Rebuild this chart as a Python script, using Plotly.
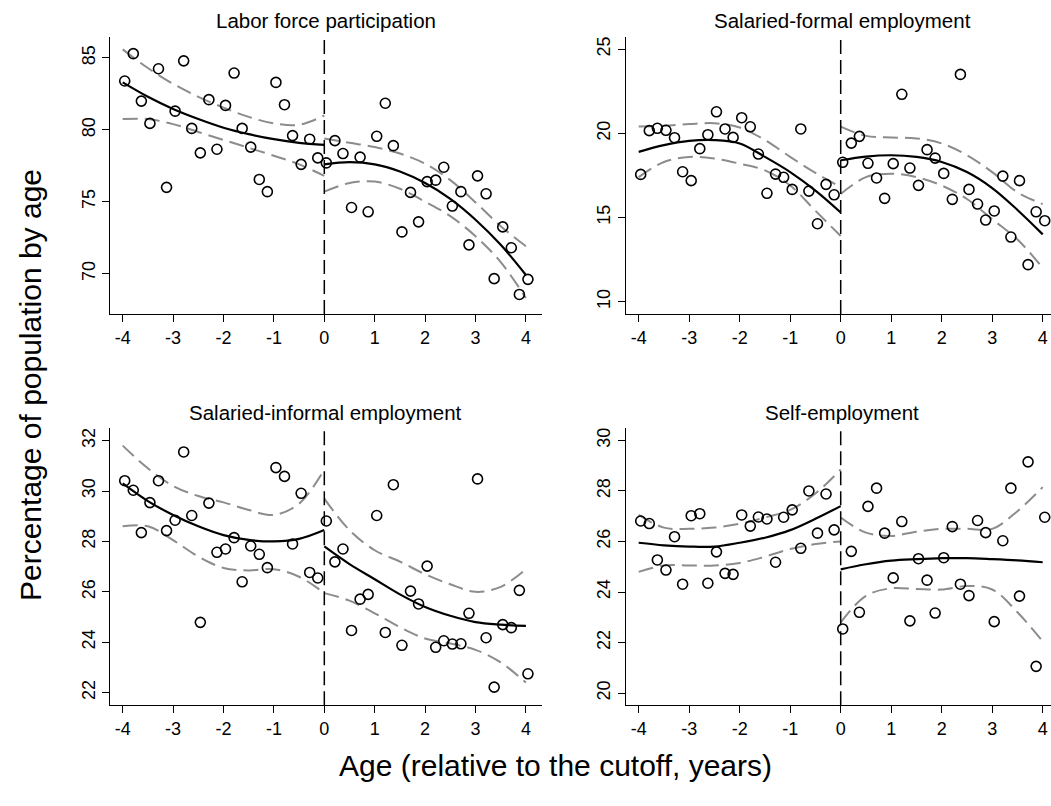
import plotly.graph_objects as go

# Binned ages (2-month bins, years relative to the cutoff)
ages = [-3.96, -3.79, -3.63, -3.46, -3.29, -3.13, -2.96, -2.79, -2.63, -2.46,
        -2.29, -2.13, -1.96, -1.79, -1.63, -1.46, -1.29, -1.13, -0.96, -0.79,
        -0.63, -0.46, -0.29, -0.13,
        0.04, 0.21, 0.37, 0.54, 0.71, 0.87, 1.04, 1.21, 1.37, 1.54,
        1.71, 1.87, 2.04, 2.21, 2.37, 2.54, 2.71, 2.87, 3.04, 3.21,
        3.37, 3.54, 3.71, 3.87, 4.04]

# Binned means (percent of population by age)
lfp = [83.4, 85.3, 82.0, 80.45, 84.25, 76.0, 81.3, 84.8, 80.1, 78.4,
       82.1, 78.65, 81.7, 83.95, 80.1, 78.8, 76.55, 75.7, 83.3, 81.75,
       79.6, 77.6, 79.35, 78.05,
       77.7, 79.25, 78.35, 74.6, 78.1, 74.3, 79.55, 81.85, 78.9, 72.9,
       75.65, 73.6, 76.4, 76.5, 77.4, 74.7, 75.7, 72.0, 76.8, 75.55,
       69.65, 73.25, 71.8, 68.55, 69.6]

formal = [17.56, 20.16, 20.30, 20.18, 19.74, 17.72, 17.19, 19.09, 19.92, 21.28,
          20.26, 19.76, 20.93, 20.39, 18.77, 16.44, 17.58, 17.39, 16.67, 20.26,
          16.57, 14.63, 16.97, 16.35,
          18.28, 19.42, 19.82, 18.22, 17.35, 16.14, 18.20, 22.32, 17.94, 16.91,
          19.03, 18.53, 17.62, 16.08, 23.50, 16.67, 15.80, 14.85, 15.39, 17.46,
          13.84, 17.19, 12.20, 15.34, 14.81]

informal = [30.41, 30.03, 28.35, 29.54, 30.41, 28.43, 28.84, 31.55, 29.03, 24.79,
            29.52, 27.57, 27.70, 28.15, 26.40, 27.82, 27.49, 26.96, 30.93, 30.58,
            27.90, 29.91, 26.77, 26.55,
            28.81, 27.19, 27.70, 24.47, 25.71, 25.90, 29.03, 24.39, 30.25, 23.88,
            26.03, 25.52, 27.02, 23.80, 24.06, 23.93, 23.94, 25.15, 30.48, 24.18,
            22.22, 24.70, 24.58, 26.06, 22.75]

selfemp = [26.81, 26.71, 25.27, 24.87, 26.19, 24.31, 27.02, 27.10, 24.35, 25.59,
           24.74, 24.70, 27.05, 26.61, 26.97, 26.89, 25.18, 26.96, 27.25, 25.73,
           28.00, 26.33, 27.88, 26.46,
           22.54, 25.61, 23.20, 27.39, 28.11, 26.33, 24.56, 26.79, 22.86, 25.32,
           24.47, 23.17, 25.36, 26.59, 24.31, 23.86, 26.83, 26.35, 22.83, 26.03,
           28.11, 23.84, 29.15, 21.06, 26.96]

# Evaluation grid for the fitted polynomials on each side of the cutoff
grid_left = [-4.0, -3.5, -3.0, -2.5, -2.0, -1.5, -1.0, -0.5, 0.0]
grid_right = [0.0, 0.5, 1.0, 1.5, 2.0, 2.5, 3.0, 3.5, 4.0]

# Fitted values and 95% confidence bands (left of cutoff / right of cutoff)
lfp_fit_l = [83.3, 82.3, 81.45, 80.75, 80.15, 79.7, 79.35, 79.1, 78.95]
lfp_hi_l = [85.6, 84.3, 83.2, 82.3, 81.55, 80.9, 80.45, 80.35, 81.0]
lfp_lo_l = [80.75, 80.75, 80.4, 79.85, 79.3, 78.75, 78.2, 77.6, 76.8]
lfp_fit_r = [77.6, 77.75, 77.6, 77.1, 76.3, 75.2, 73.75, 72.0, 69.9]
lfp_hi_r = [79.4, 79.1, 78.8, 78.35, 77.65, 76.5, 74.95, 73.3, 71.9]
lfp_lo_r = [75.7, 76.3, 76.4, 75.9, 75.0, 74.0, 72.6, 70.8, 68.3]

formal_fit_l = [18.9, 19.3, 19.55, 19.6, 19.4, 18.6, 17.7, 16.6, 15.3]
formal_hi_l = [20.4, 20.45, 20.55, 20.6, 20.35, 19.6, 18.6, 17.65, 16.8]
formal_lo_l = [17.4, 18.3, 18.6, 18.5, 18.2, 17.8, 16.9, 15.4, 13.9]
formal_fit_r = [18.4, 18.62, 18.7, 18.6, 18.3, 17.7, 16.75, 15.45, 14.0]
formal_hi_r = [20.4, 19.85, 19.75, 19.7, 19.4, 18.7, 17.7, 16.5, 15.8]
formal_lo_r = [16.4, 17.4, 17.6, 17.4, 16.9, 16.1, 14.9, 13.7, 12.0]

informal_fit_l = [30.3, 29.6, 29.05, 28.6, 28.25, 28.06, 28.0, 28.1, 28.45]
informal_hi_l = [31.8, 30.9, 30.2, 29.8, 29.55, 29.25, 29.05, 29.5, 30.85]
informal_lo_l = [28.6, 28.6, 28.05, 27.4, 26.95, 26.85, 26.9, 26.6, 25.95]
informal_fit_r = [27.8, 27.1, 26.5, 25.9, 25.4, 25.05, 24.8, 24.7, 24.65]
informal_hi_r = [29.7, 28.45, 27.65, 27.2, 26.7, 26.3, 26.0, 26.2, 26.9]
informal_lo_r = [25.95, 25.65, 25.15, 24.6, 24.15, 23.95, 23.7, 23.2, 22.4]

self_fit_l = [25.95, 25.85, 25.8, 25.8, 25.95, 26.15, 26.45, 26.9, 27.4]
self_hi_l = [27.05, 26.55, 26.5, 26.55, 26.7, 26.95, 27.25, 27.9, 28.85]
self_lo_l = [24.8, 25.05, 25.05, 25.05, 25.15, 25.4, 25.7, 25.9, 26.0]
self_fit_r = [24.9, 25.1, 25.24, 25.3, 25.34, 25.34, 25.3, 25.25, 25.18]
self_hi_r = [26.95, 26.35, 26.22, 26.39, 26.5, 26.5, 26.5, 27.2, 28.15]
self_lo_r = [22.8, 23.85, 24.15, 24.12, 24.1, 24.24, 24.1, 23.2, 22.05]

panel_titles = ["Labor force participation", "Salaried-formal employment",
                "Salaried-informal employment", "Self-employment"]
x_ticks = [-4, -3, -2, -1, 0, 1, 2, 3, 4]
x_ticklabels = ["-4", "-3", "-2", "-1", "0", "1", "2", "3", "4"]
y_ticks = [[70, 75, 80, 85], [10, 15, 20, 25], [22, 24, 26, 28, 30, 32], [20, 22, 24, 26, 28, 30]]
y_ranges = [[67.19, 86.48], [9.27, 25.74], [21.5, 32.5], [19.52, 30.49]]

FONT = "Liberation Sans, Arial, Helvetica, sans-serif"
W, H = 1051, 806
CI_COLOR = "#8c8c8c"

panels = [
    (lfp, lfp_fit_l, lfp_hi_l, lfp_lo_l, lfp_fit_r, lfp_hi_r, lfp_lo_r),
    (formal, formal_fit_l, formal_hi_l, formal_lo_l, formal_fit_r, formal_hi_r, formal_lo_r),
    (informal, informal_fit_l, informal_hi_l, informal_lo_l, informal_fit_r, informal_hi_r, informal_lo_r),
    (selfemp, self_fit_l, self_hi_l, self_lo_l, self_fit_r, self_hi_r, self_lo_r),
]

# Plot-area boxes in pixels: (left, right, top, bottom)
boxes = [(110, 541.7, 36.7, 314), (625.7, 1051, 36.7, 314),
         (110, 541.7, 428, 705.3), (625.7, 1051, 428, 705.3)]
x_ranges = [[-4.252, 4.313], [-4.257, 4.164], [-4.252, 4.313], [-4.257, 4.164]]
title_centers = [325.9, 842.0, 325.9, 842.0]
title_tops = [21, 21, 412, 412]

fig = go.Figure()
layout = dict(
    width=W, height=H, margin=dict(l=0, r=0, t=0, b=0),
    paper_bgcolor="white", plot_bgcolor="white", showlegend=False,
    font=dict(family=FONT, color="black"),
)
shapes = []
annotations = []

for i, (vals, fl, hl, ll, fr, hr, lr) in enumerate(panels):
    n = "" if i == 0 else str(i + 1)
    xa, ya = "x" + n, "y" + n
    left, right, top, bottom = boxes[i]

    ci_line = dict(color=CI_COLOR, width=2, dash="15px,7px", shape="spline")
    fit_line = dict(color="black", width=2.2, shape="spline")
    for gx, ys, ln in [(grid_left, hl, ci_line), (grid_left, ll, ci_line),
                       (grid_right, hr, ci_line), (grid_right, lr, ci_line),
                       (grid_left, fl, fit_line), (grid_right, fr, fit_line)]:
        fig.add_trace(go.Scatter(x=gx, y=ys, mode="lines", line=ln,
                                 xaxis=xa, yaxis=ya, hoverinfo="skip"))

    fig.add_trace(go.Scatter(
        x=ages, y=vals, mode="markers", xaxis=xa, yaxis=ya,
        marker=dict(symbol="circle-open", size=10, color="black",
                    line=dict(width=1.6, color="black")),
    ))

    axis_common = dict(showline=True, linecolor="black", linewidth=1.3,
                       ticks="outside", ticklen=7, tickwidth=1.3, tickcolor="black",
                       showgrid=False, zeroline=False,
                       tickfont=dict(size=18, family=FONT, color="black"))
    layout["xaxis" + n] = dict(
        axis_common, domain=[left / W, right / W], anchor=ya,
        range=x_ranges[i], tickvals=x_ticks, ticktext=x_ticklabels,
    )
    layout["yaxis" + n] = dict(
        axis_common, domain=[1 - bottom / H, 1 - top / H], anchor=xa,
        range=y_ranges[i], tickvals=y_ticks[i],
        ticktext=[str(v) for v in y_ticks[i]], tickangle=-90,
    )

    # Cutoff line
    shapes.append(dict(type="line", xref=xa, yref=ya + " domain",
                       x0=0, x1=0, y0=0, y1=1,
                       line=dict(color="black", width=1.5, dash="14px,6px")))

    annotations.append(dict(
        text=panel_titles[i], x=title_centers[i] / W, y=1 - title_tops[i] / H,
        xref="paper", yref="paper", showarrow=False,
        font=dict(size=20.5, family=FONT, color="black"),
        xanchor="center", yanchor="middle",
    ))

annotations.append(dict(
    text="Percentage of population by age", x=30 / W, y=1 - 385 / H,
    xref="paper", yref="paper", showarrow=False, textangle=-90,
    font=dict(size=30, family=FONT, color="black"),
    xanchor="center", yanchor="middle",
))
annotations.append(dict(
    text="Age (relative to the cutoff, years)", x=555 / W, y=1 - 765 / H,
    xref="paper", yref="paper", showarrow=False,
    font=dict(size=30, family=FONT, color="black"),
    xanchor="center", yanchor="middle",
))

layout["shapes"] = shapes
layout["annotations"] = annotations
fig.update_layout(**layout)
fig.write_html("out.html")
